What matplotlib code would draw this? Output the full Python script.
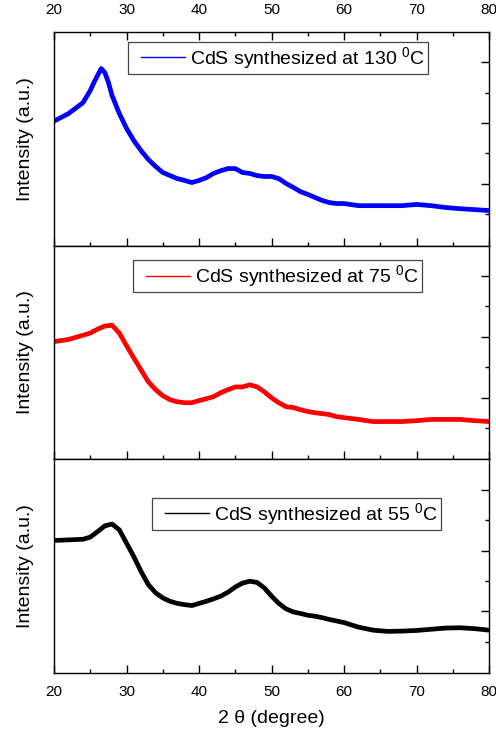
import matplotlib.pyplot as plt
from matplotlib.legend_handler import HandlerLine2D

plt.rcParams['font.family'] = 'Liberation Sans'
plt.rcParams['mathtext.fontset'] = 'custom'
plt.rcParams['mathtext.rm'] = 'Liberation Sans'

# XRD patterns, 2theta in degrees, intensity in arbitrary units
x_130 = [20, 22, 24, 25, 25.5, 26, 26.5, 27, 27.5, 28, 29, 30, 31, 32, 33, 34, 35, 36, 37,
         38, 39, 40, 41, 42, 43, 44, 45, 46, 47, 48, 49, 50, 51, 52, 53, 54, 55, 56, 57,
         58, 59, 60, 62, 64, 66, 68, 70, 72, 74, 76, 78, 80]
I_130 = [406, 431, 467, 507, 533, 556, 579, 566, 533, 490, 431, 382, 342, 309, 280, 257,
         237, 227, 217, 211, 204, 211, 220, 234, 243, 250, 250, 237, 234, 227, 224, 224,
         217, 201, 188, 174, 165, 155, 145, 138, 135, 135, 128, 128, 128, 128, 132, 128,
         122, 118, 115, 112]

x_75 = [20, 22, 24, 25, 26, 27, 28, 29, 30, 31, 32, 33, 34, 35, 36, 37, 38, 39, 40, 41,
        42, 43, 44, 45, 46, 47, 48, 49, 50, 51, 52, 53, 54, 55, 56, 57, 58, 59, 60, 62,
        64, 66, 68, 70, 72, 74, 76, 78, 80]
I_75 = [384, 391, 405, 412, 425, 435, 438, 412, 370, 330, 291, 252, 226, 206, 193, 186,
        183, 183, 190, 196, 203, 216, 226, 235, 235, 242, 235, 219, 199, 183, 170, 167,
        160, 154, 150, 147, 144, 137, 134, 128, 121, 121, 121, 124, 128, 128, 128, 124, 121]

x_55 = x_75
I_55 = [433, 435, 437, 444, 462, 481, 487, 468, 424, 380, 331, 288, 261, 244, 233, 226,
        222, 219, 226, 233, 241, 250, 263, 280, 293, 299, 295, 277, 250, 226, 208, 198,
        193, 187, 184, 179, 173, 168, 163, 148, 138, 134, 135, 137, 141, 145, 146, 143, 138]

samples = [
    (x_130, I_130, 'blue', r'CdS synthesized at 130 $\mathregular{^0}$C', (0.170, 0.953)),
    (x_75, I_75, 'red', r'CdS synthesized at 75 $\mathregular{^0}$C', (0.182, 0.930)),
    (x_55, I_55, 'black', r'CdS synthesized at 55 $\mathregular{^0}$C', (0.225, 0.818)),
]

fig, axes = plt.subplots(3, 1, sharex=True, figsize=(4.96, 7.38), dpi=100)
fig.subplots_adjust(left=0.109, right=0.986, top=0.957, bottom=0.088, hspace=0)

for i, (ax, (x, y, col, lab, anchor)) in enumerate(zip(axes, samples)):
    ax.plot(x, y, color=col, lw=3.4, label=lab)
    ax.set_xlim(20, 80)
    ax.set_ylim(-3, 700)
    ax.set_xticks(range(20, 81, 10))
    ax.set_xticks(range(25, 80, 10), minor=True)
    ax.set_yticks([200, 400, 600])
    ax.set_yticks([100, 300, 500], minor=True)
    for s in ax.spines.values():
        s.set_linewidth(1.0)
    ax.tick_params(axis='y', which='both', direction='in', left=False, right=True,
                   labelleft=False)
    ax.tick_params(axis='both', which='major', length=6, width=1.0)
    ax.tick_params(axis='both', which='minor', length=3, width=1.0)
    ax.tick_params(axis='x', which='both', direction='in', top=(i == 0), bottom=True,
                   labeltop=(i == 0), labelsize=11, pad=8.5)
    if i == 0:
        ax.tick_params(axis='x', pad=10.5)
    ax.set_ylabel('Intensity (a.u.)', fontsize=14)
    ax.yaxis.set_label_coords(-0.046, 0.5)

    leg = ax.legend(loc='upper left', bbox_to_anchor=anchor, borderaxespad=0,
                    fontsize=14, fancybox=False, framealpha=1, edgecolor='#444444',
                    borderpad=0.15, handlelength=2.78, handletextpad=0.26,
                    handler_map={plt.Line2D: HandlerLine2D(xpad=0.51)})
    leg.get_frame().set_linewidth(0.9)
    for h in leg.get_lines():
        h.set_linewidth(1.0)

axes[-1].set_xlabel('2 θ (degree)', fontsize=14, labelpad=8)

fig.savefig('out.png', dpi=100)
